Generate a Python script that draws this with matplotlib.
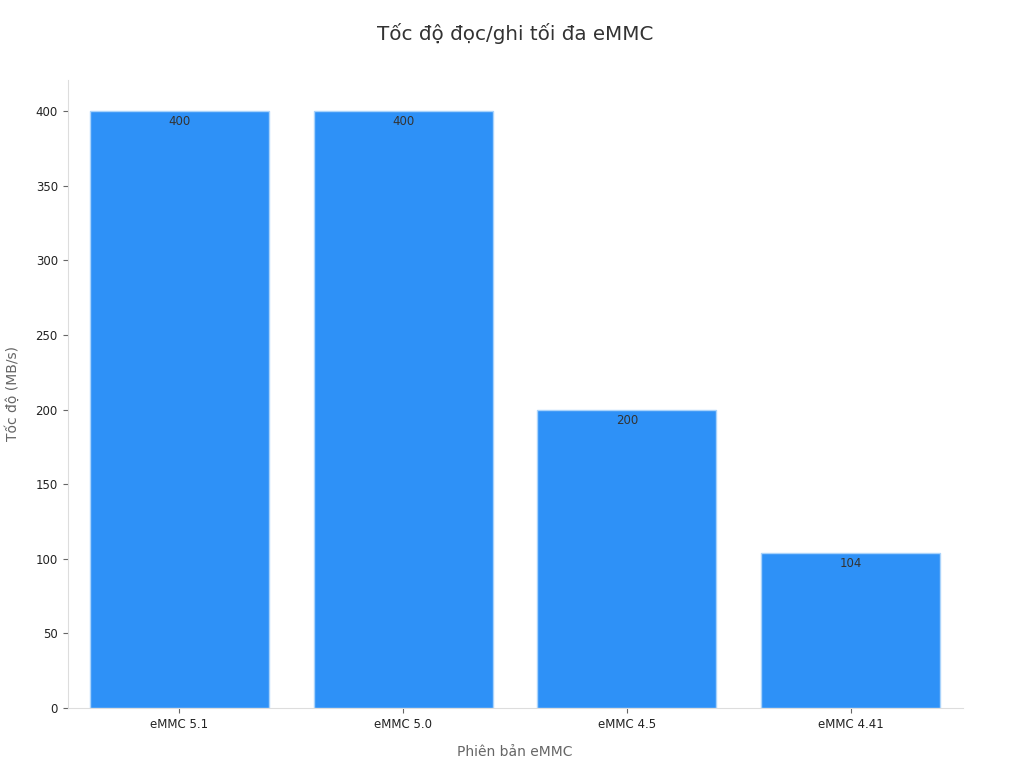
import matplotlib
matplotlib.use("Agg")
import matplotlib.pyplot as plt

# Data
versions = ["eMMC 5.1", "eMMC 5.0", "eMMC 4.5", "eMMC 4.41"]
speeds = [400, 400, 200, 104]

fig, ax = plt.subplots(figsize=(10.24, 7.68), dpi=100)
fig.subplots_adjust(left=0.066, right=0.940, top=0.896, bottom=0.078)

bars = ax.bar(versions, speeds, width=0.8, color="#2e91f7", edgecolor="#a9d3fb", linewidth=1)

# value labels just inside the top of each bar
for b, v in zip(bars, speeds):
    ax.annotate(str(v), (b.get_x() + b.get_width() / 2, v), xytext=(0, -3),
                textcoords="offset points", ha="center", va="top",
                fontsize=8.5, color="#333333")

ax.set_xlim(-0.5, 3.5)
ax.set_ylim(0, 421)
ax.set_yticks(range(0, 401, 50))

ax.set_title("Tốc độ đọc/ghi tối đa eMMC", fontsize=14.3, color="#333333", pad=28.5)
ax.set_xlabel("Phiên bản eMMC", fontsize=10, color="#666666", labelpad=10)
ax.set_ylabel("Tốc độ (MB/s)", fontsize=10, color="#666666", labelpad=11)

for s in ["top", "right"]:
    ax.spines[s].set_visible(False)
for s in ["left", "bottom"]:
    ax.spines[s].set_color("#dddddd")
ax.tick_params(colors="#666666", labelcolor="#222222", labelsize=8.5)

plt.savefig("out.png")
